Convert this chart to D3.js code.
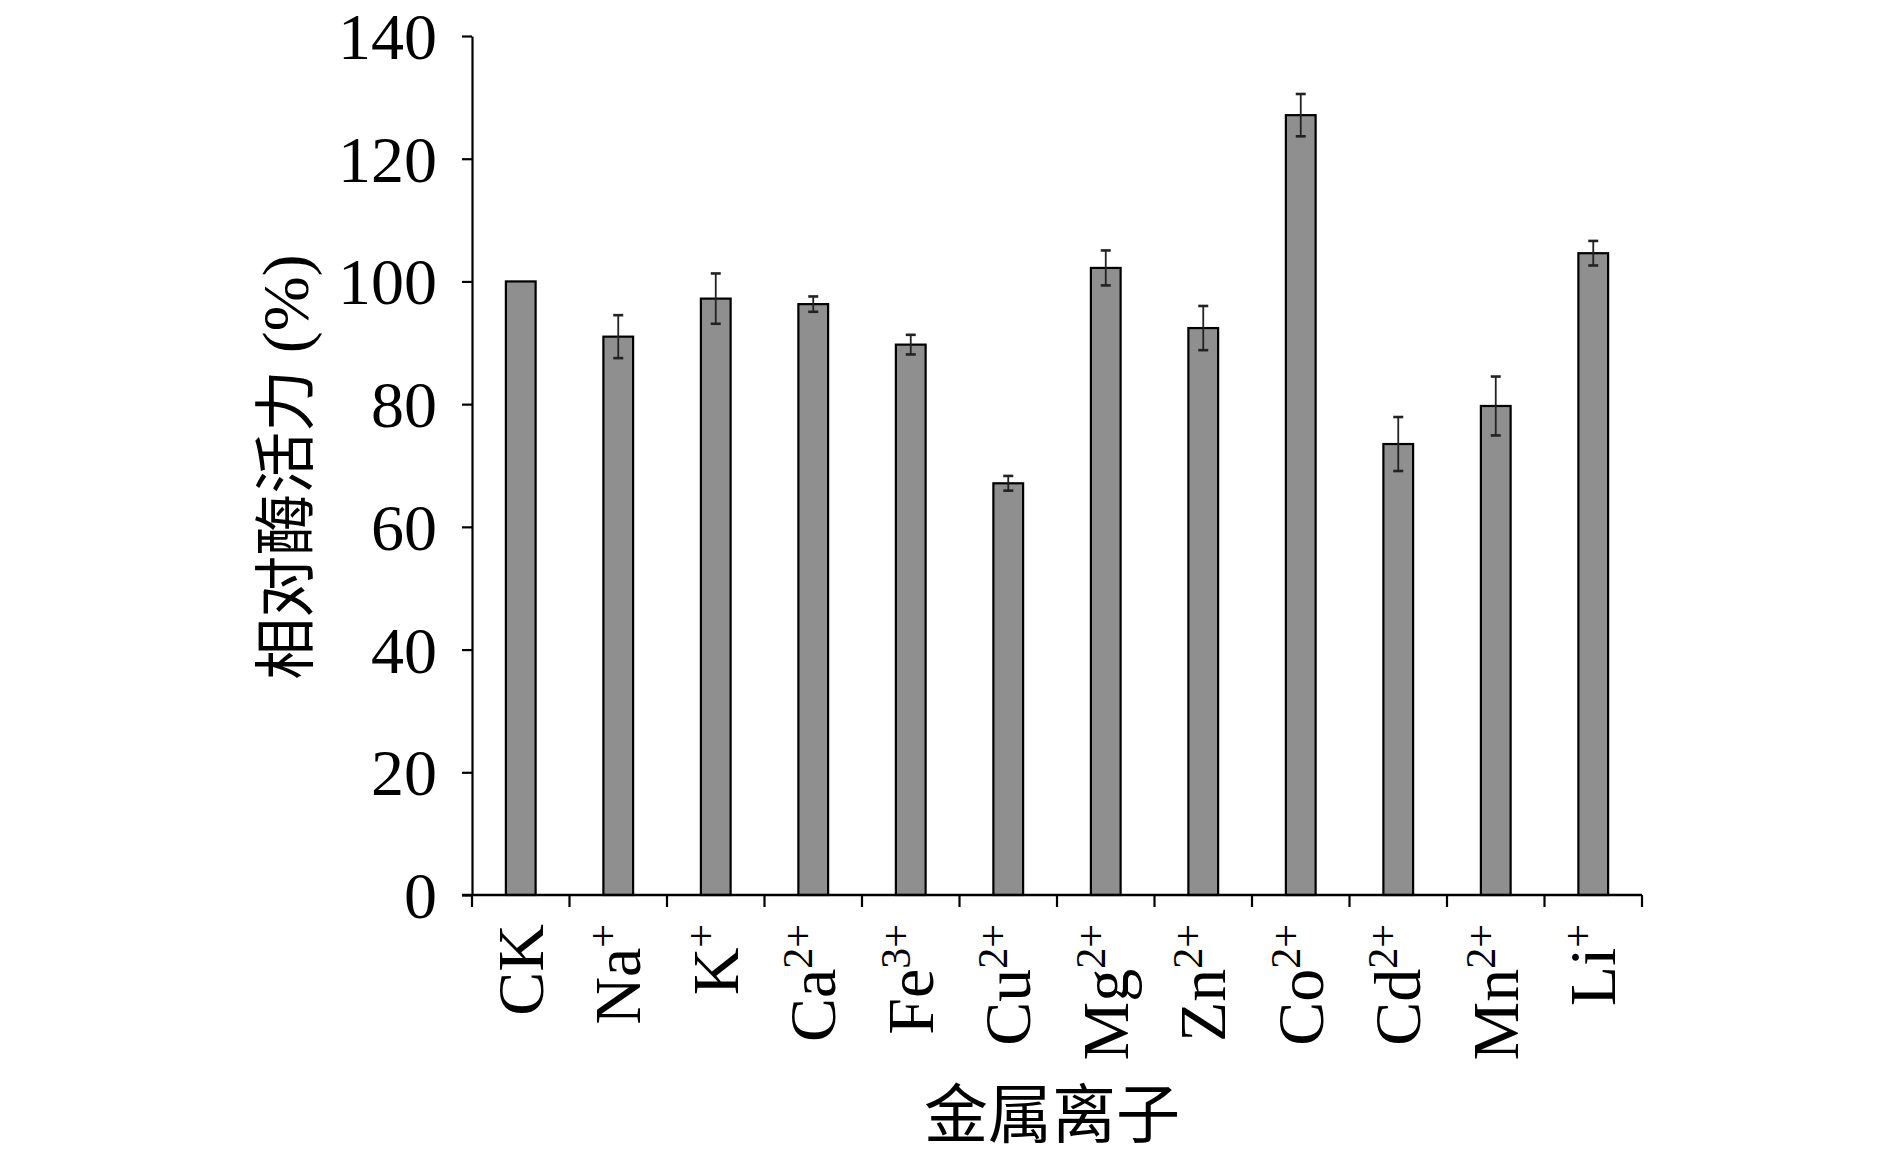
<!DOCTYPE html>
<html>
<head>
<meta charset="utf-8">
<script src="https://cdn.jsdelivr.net/npm/d3@7"></script>
<style>
  html, body { margin: 0; padding: 0; background: #fff; }
  svg { display: block; }
</style>
</head>
<body>
<div id="chart"></div>
<script>
// ---- data ----
const ions = ["CK", "Na", "K", "Ca", "Fe", "Cu", "Mg", "Zn", "Co", "Cd", "Mn", "Li"];
const charges = ["", "+", "+", "2+", "3+", "2+", "2+", "2+", "2+", "2+", "2+", "+"];
const activity = [100, 91.0, 97.2, 96.3, 89.7, 67.1, 102.2, 92.4, 127.1, 73.5, 79.7, 104.6];
const errors = [0, 3.5, 4.1, 1.25, 1.6, 1.2, 2.85, 3.6, 3.45, 4.4, 4.8, 2.0];
const yTicks = [0, 20, 40, 60, 80, 100, 120, 140];

const W = 1890, H = 1156;
const mL = 472, mR = 1642, mT = 36, mB = 895;

const svg = d3.select("#chart").append("svg")
  .attr("width", W).attr("height", H)
  .style("background", "#fff");

const x = d3.scaleBand().domain(ions).range([mL, mR]).padding(0);
const y = d3.scaleLinear().domain([0, 140]).range([mB, mT]);

const serif = "'Liberation Serif', 'Times New Roman', serif";
const cjk = "'Noto Sans CJK SC', sans-serif";

// bars
const barW = x.step() * 0.305;
svg.append("g").selectAll("rect").data(ions).join("rect")
  .attr("x", d => x(d) + x.bandwidth() / 2 - barW / 2)
  .attr("y", (d, i) => y(activity[i]))
  .attr("width", barW)
  .attr("height", (d, i) => y(0) - y(activity[i]))
  .attr("fill", "#8f8f8f")
  .attr("stroke", "#000")
  .attr("stroke-width", 2.2);

// error bars
const eg = svg.append("g").attr("stroke", "#222");
ions.forEach((d, i) => {
  if (!errors[i]) return;
  const cx = x(d) + x.bandwidth() / 2;
  const y1 = y(activity[i] + errors[i]), y2 = y(activity[i] - errors[i]);
  eg.append("line").attr("x1", cx).attr("x2", cx).attr("y1", y1).attr("y2", y2).attr("stroke-width", 1.8);
  [y1, y2].forEach(yy => eg.append("line")
    .attr("x1", cx - 5).attr("x2", cx + 5).attr("y1", yy).attr("y2", yy).attr("stroke-width", 2.6));
});

// y axis
const yAxis = d3.axisLeft(y).tickValues(yTicks).tickSize(10).tickPadding(25).tickSizeOuter(0);
const yg = svg.append("g").attr("transform", `translate(${mL},0)`).call(yAxis);
yg.select(".domain").attr("stroke", "#000").attr("stroke-width", 2.2);
yg.selectAll(".tick line").attr("stroke", "#000").attr("stroke-width", 2.2);
yg.selectAll(".tick text")
  .attr("font-family", serif).attr("font-size", 66).attr("fill", "#000")
  .attr("dy", "0.34em");

// x axis line & boundary ticks
const xg = svg.append("g");
xg.append("line").attr("x1", mL - 10).attr("x2", mR).attr("y1", mB).attr("y2", mB)
  .attr("stroke", "#000").attr("stroke-width", 2.4);
const bounds = ions.map(d => x(d)).concat([mR]);
xg.selectAll("line.t").data(bounds).join("line").attr("class", "t")
  .attr("x1", d => d).attr("x2", d => d).attr("y1", mB).attr("y2", mB + 12)
  .attr("stroke", "#000").attr("stroke-width", 2.2);

// x labels (rotated)
ions.forEach((d, i) => {
  const cx = x(d) + x.bandwidth() / 2;
  const t = svg.append("text")
    .attr("transform", `translate(${cx},${mB + 29}) rotate(-90)`)
    .attr("text-anchor", "end")
    .attr("font-family", serif).attr("font-size", 66).attr("fill", "#000")
    .attr("y", 22);
  t.append("tspan").text(d);
  if (charges[i]) {
    t.append("tspan").attr("font-size", 42).attr("dy", -23).text(charges[i]);
  }
});

// y title
const yt = svg.append("text")
  .attr("transform", `translate(308,467) rotate(-90)`)
  .attr("text-anchor", "middle")
  .attr("font-size", 62).attr("fill", "#000");
yt.append("tspan").attr("font-family", cjk).text("相对酶活力");
yt.append("tspan").attr("font-family", serif).attr("font-size", 66).text(" (%)");

// x title
svg.append("text")
  .attr("x", 1052).attr("y", 1137)
  .attr("text-anchor", "middle")
  .attr("font-family", cjk).attr("font-size", 64).attr("fill", "#000")
  .text("金属离子");
</script>
</body>
</html>
